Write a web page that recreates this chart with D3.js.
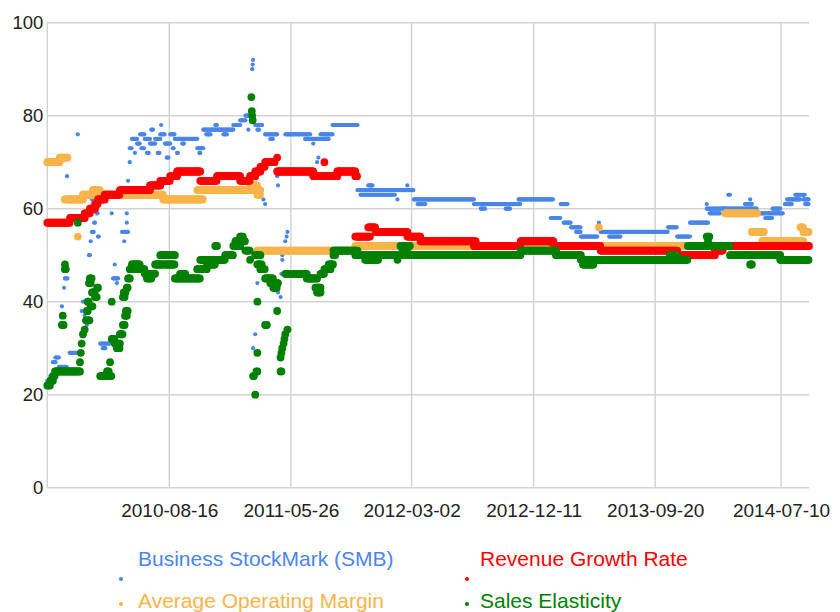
<!DOCTYPE html>
<html>
<head>
<meta charset="utf-8">
<script src="https://cdn.jsdelivr.net/npm/d3@7"></script>
<style>
  body { margin: 0; background: #ffffff; }
  text { font-family: "Liberation Sans", Arial, sans-serif; }
</style>
</head>
<body>
<div id="canvas"></div>
<script>
"use strict"

/* Series data: each row is [from, to, value],
   the value holds on every sampled day between the two dates. */
let smbRuns = [
  ["2009-11-05","2009-11-12",23], ["2009-11-12","2009-11-18",24], ["2009-11-18","2009-11-24",27],
  ["2009-11-24","2009-12-02",28], ["2009-12-02","2009-12-20",26], ["2009-12-09","2009-12-09",39],
  ["2009-12-14","2009-12-14",43], ["2009-12-16","2009-12-22",45], ["2009-12-20","2009-12-20",47],
  ["2009-12-21","2009-12-21",67], ["2009-12-27","2010-01-14",29], ["2010-01-15","2010-01-15",76],
  ["2010-01-24","2010-01-24",38], ["2010-01-27","2010-01-27",40], ["2010-01-31","2010-01-31",37],
  ["2010-02-05","2010-02-05",35], ["2010-02-10","2010-02-12",50], ["2010-02-14","2010-02-14",53],
  ["2010-02-17","2010-02-17",62], ["2010-02-17","2010-02-22",55], ["2010-02-22","2010-02-24",57],
  ["2010-02-28","2010-03-03",59], ["2010-03-03","2010-03-05",54], ["2010-03-08","2010-03-31",31],
  ["2010-03-14","2010-03-20",30], ["2010-04-04","2010-04-04",59], ["2010-04-07","2010-04-20",45],
  ["2010-04-11","2010-04-11",48], ["2010-04-16","2010-04-16",44], ["2010-04-28","2010-05-12",55],
  ["2010-05-03","2010-05-03",53], ["2010-05-09","2010-05-09",57], ["2010-05-09","2010-05-09",59],
  ["2010-05-12","2010-05-12",66], ["2010-05-16","2010-05-16",70], ["2010-05-16","2010-05-21",73],
  ["2010-05-21","2010-06-02",75], ["2010-05-28","2010-05-28",72], ["2010-06-02","2010-06-09",74],
  ["2010-06-09","2010-06-20",76], ["2010-06-12","2010-06-18",73], ["2010-06-20","2010-07-02",75],
  ["2010-06-25","2010-06-30",72], ["2010-07-02","2010-07-14",74], ["2010-07-05","2010-07-10",77],
  ["2010-07-14","2010-07-26",75], ["2010-07-20","2010-07-24",72], ["2010-07-26","2010-08-06",76],
  ["2010-07-28","2010-07-28",78], ["2010-08-06","2010-08-18",74], ["2010-08-10","2010-08-14",71],
  ["2010-08-18","2010-08-29",76], ["2010-08-24","2010-08-27",73], ["2010-08-29","2010-09-10",75],
  ["2010-09-03","2010-09-06",72], ["2010-09-10","2010-10-20",75], ["2010-09-15","2010-09-20",74],
  ["2010-10-20","2010-11-03",73], ["2010-10-25","2010-10-28",72], ["2010-11-03","2011-01-12",77],
  ["2010-11-10","2010-11-20",76], ["2010-12-01","2010-12-05",78], ["2010-12-20","2010-12-28",76],
  ["2011-01-12","2011-01-28",78], ["2011-01-28","2011-02-09",79], ["2011-02-09","2011-02-20",80],
  ["2011-02-16","2011-02-16",77], ["2011-02-25","2011-02-25",90], ["2011-02-26","2011-02-26",91],
  ["2011-02-27","2011-02-27",92], ["2011-02-27","2011-02-27",30], ["2011-03-04","2011-03-04",33],
  ["2011-03-09","2011-03-09",44], ["2011-03-04","2011-03-20",78], ["2011-03-09","2011-03-14",77],
  ["2011-03-20","2011-03-20",64], ["2011-03-23","2011-03-23",62], ["2011-03-27","2011-03-27",61],
  ["2011-03-27","2011-04-24",76], ["2011-04-08","2011-04-15",75], ["2011-04-24","2011-04-24",67],
  ["2011-04-26","2011-04-26",65], ["2011-04-26","2011-04-26",42], ["2011-05-02","2011-05-02",41],
  ["2011-05-04","2011-05-04",46], ["2011-05-06","2011-05-06",49], ["2011-05-06","2011-05-06",50],
  ["2011-05-13","2011-05-13",53], ["2011-05-16","2011-05-16",54], ["2011-05-18","2011-05-18",55],
  ["2011-05-13","2011-07-10",76], ["2011-06-28","2011-08-03",75], ["2011-07-17","2011-07-17",74],
  ["2011-07-22","2011-07-22",68], ["2011-07-26","2011-07-26",70], ["2011-07-29","2011-07-29",71],
  ["2011-08-03","2011-08-31",76], ["2011-08-08","2011-08-22",75], ["2011-08-31","2011-10-28",78],
  ["2011-10-28","2012-03-07",64], ["2011-11-04","2012-01-24",63], ["2011-11-22","2011-12-02",65],
  ["2012-01-29","2012-01-29",62], ["2012-02-21","2012-02-21",65], ["2012-03-07","2012-07-25",62],
  ["2012-03-16","2012-04-04",61], ["2012-07-25","2012-11-11",61], ["2012-08-10","2012-08-21",60],
  ["2012-10-07","2012-10-18",60], ["2012-11-06","2013-01-25",62], ["2013-01-20","2013-02-12",58],
  ["2013-02-12","2013-03-01",61], ["2013-02-19","2013-03-08",57], ["2013-03-08","2013-03-31",56],
  ["2013-03-20","2013-03-31",55], ["2013-03-31","2013-05-09",54], ["2013-05-12","2013-05-12",57],
  ["2013-05-16","2013-10-20",55], ["2013-06-05","2013-07-02",54], ["2013-10-20","2013-11-10",56],
  ["2013-11-10","2013-12-10",54], ["2013-12-10","2014-01-21",57], ["2014-01-18","2014-01-18",61],
  ["2014-01-18","2014-02-25",60], ["2014-01-25","2014-02-18",59], ["2014-03-09","2014-03-13",63],
  ["2014-02-25","2014-05-15",60], ["2014-03-02","2014-03-30",59], ["2014-04-17","2014-05-03",61],
  ["2014-04-29","2014-04-29",62], ["2014-05-15","2014-07-15",59], ["2014-06-03","2014-06-20",58],
  ["2014-06-20","2014-07-08",60], ["2014-07-19","2014-08-05",61], ["2014-07-24","2014-08-24",62],
  ["2014-08-12","2014-09-04",63], ["2014-08-31","2014-09-13",62], ["2014-09-04","2014-09-13",61]
];

let rgrRuns = [
  ["2009-11-05","2009-12-28",57], ["2009-12-28","2010-01-31",58], ["2010-01-31","2010-02-12",59],
  ["2010-02-12","2010-02-24",60], ["2010-02-24","2010-03-03",61], ["2010-03-03","2010-03-19",62],
  ["2010-03-19","2010-04-23",63], ["2010-04-23","2010-07-02",64], ["2010-07-02","2010-07-26",65],
  ["2010-07-26","2010-08-18",66], ["2010-08-18","2010-09-03",67], ["2010-09-03","2010-10-27",68],
  ["2010-10-27","2010-12-05",66], ["2010-12-05","2011-01-28",67], ["2011-01-28","2011-02-20",66],
  ["2011-02-20","2011-03-04",67], ["2011-03-04","2011-03-16",68], ["2011-03-16","2011-03-27",69],
  ["2011-03-27","2011-04-19",70], ["2011-04-24","2011-04-24",71], ["2011-04-24","2011-07-17",68],
  ["2011-07-17","2011-09-11",67], ["2011-08-12","2011-08-12",70], ["2011-09-11","2011-10-23",68],
  ["2011-10-23","2011-10-28",67], ["2011-10-23","2011-11-27",54], ["2011-11-22","2011-12-09",56],
  ["2011-12-09","2012-02-21",55], ["2012-02-21","2012-03-23",54], ["2012-03-23","2012-07-29",53],
  ["2012-07-25","2012-11-11",52], ["2012-11-11","2013-01-27",53], ["2013-01-27","2013-05-16",52],
  ["2013-05-16","2013-11-10",51], ["2013-11-10","2014-02-06",50], ["2014-02-06","2014-02-25",51],
  ["2014-02-25","2014-09-13",52]
];

let aomRuns = [
  ["2009-11-05","2009-12-04",70], ["2009-12-04","2009-12-23",71], ["2009-12-16","2010-01-27",62],
  ["2010-01-15","2010-01-15",54], ["2010-01-27","2010-03-24",63], ["2010-02-19","2010-03-08",64],
  ["2010-03-24","2010-08-02",63], ["2010-08-02","2010-11-03",62], ["2010-10-20","2011-03-16",64],
  ["2011-02-20","2011-03-09",65], ["2011-03-09","2011-03-16",63], ["2011-03-09","2011-10-23",51],
  ["2011-10-23","2013-12-10",52], ["2013-05-12","2013-05-12",56], ["2014-03-02","2014-05-15",59],
  ["2014-05-03","2014-05-31",55], ["2014-05-27","2014-08-31",53], ["2014-08-24","2014-08-31",56],
  ["2014-08-31","2014-09-13",55]
];

let seRuns = [
  ["2009-11-05","2009-11-12",22], ["2009-11-12","2009-11-18",23], ["2009-11-18","2009-11-23",24],
  ["2009-11-23","2010-01-20",25], ["2009-12-09","2009-12-14",35], ["2009-12-11","2009-12-11",37],
  ["2009-12-16","2009-12-18",47], ["2009-12-16","2009-12-16",48], ["2010-01-15","2010-01-15",57],
  ["2010-01-20","2010-01-20",27], ["2010-01-22","2010-01-22",29], ["2010-01-24","2010-01-24",31],
  ["2010-01-27","2010-01-27",33], ["2010-01-31","2010-01-31",34], ["2010-02-03","2010-02-03",36],
  ["2010-02-05","2010-02-07",38], ["2010-02-07","2010-02-10",40], ["2010-02-07","2010-02-12",36],
  ["2010-02-10","2010-02-14",44], ["2010-02-12","2010-02-17",45], ["2010-02-14","2010-02-19",39],
  ["2010-02-17","2010-02-24",42], ["2010-02-24","2010-03-01",41], ["2010-03-01","2010-03-03",43],
  ["2010-03-08","2010-04-04",24], ["2010-03-24","2010-03-28",25], ["2010-03-31","2010-03-31",27],
  ["2010-04-04","2010-04-04",40], ["2010-04-04","2010-04-11",32], ["2010-04-11","2010-04-23",31],
  ["2010-04-16","2010-04-23",30], ["2010-04-23","2010-04-30",33], ["2010-04-30","2010-05-05",35],
  ["2010-05-05","2010-05-09",37], ["2010-05-07","2010-05-12",38], ["2010-04-30","2010-05-05",41],
  ["2010-05-02","2010-05-07",42], ["2010-05-09","2010-05-12",43], ["2010-05-12","2010-05-16",45],
  ["2010-05-16","2010-06-20",47], ["2010-05-21","2010-06-09",48], ["2010-06-20","2010-07-14",46],
  ["2010-06-25","2010-07-05",45], ["2010-07-14","2010-08-02",48], ["2010-07-26","2010-08-29",50],
  ["2010-08-06","2010-08-29",48], ["2010-08-29","2010-10-27",45], ["2010-09-10","2010-09-22",46],
  ["2010-10-20","2010-11-12",47], ["2010-10-27","2010-11-03",49], ["2010-11-03","2010-12-24",49],
  ["2010-11-12","2010-11-30",48], ["2010-12-01","2010-12-05",52], ["2010-12-24","2011-01-12",50],
  ["2011-01-12","2011-01-28",52], ["2011-01-17","2011-02-09",53], ["2011-01-28","2011-02-04",54],
  ["2011-02-09","2011-02-20",51], ["2011-02-20","2011-02-20",49], ["2011-02-23","2011-02-23",84],
  ["2011-02-24","2011-02-24",81], ["2011-02-25","2011-02-25",80], ["2011-02-26","2011-02-26",79],
  ["2011-03-04","2011-03-04",20], ["2011-02-27","2011-03-01",24], ["2011-03-07","2011-03-09",25],
  ["2011-03-09","2011-03-09",29], ["2011-03-09","2011-03-09",40], ["2011-03-04","2011-03-16",50],
  ["2011-03-09","2011-03-20",48], ["2011-03-16","2011-03-27",47], ["2011-03-27","2011-04-01",35],
  ["2011-03-27","2011-04-15",45], ["2011-04-08","2011-04-26",44], ["2011-04-15","2011-04-24",43],
  ["2011-04-24","2011-04-24",38], ["2011-05-02","2011-05-04",25], ["2011-05-02","2011-05-02",28],
  ["2011-05-04","2011-05-04",29], ["2011-05-06","2011-05-06",30], ["2011-05-09","2011-05-09",31],
  ["2011-05-11","2011-05-11",32], ["2011-05-13","2011-05-13",33], ["2011-05-18","2011-05-18",34],
  ["2011-05-13","2011-07-02",46], ["2011-07-02","2011-07-26",45], ["2011-07-22","2011-08-03",43],
  ["2011-07-26","2011-08-03",42], ["2011-08-03","2011-08-12",46], ["2011-08-12","2011-08-26",47],
  ["2011-08-22","2011-09-02",48], ["2011-09-02","2011-09-06",50], ["2011-09-02","2011-10-28",51],
  ["2011-10-23","2012-03-07",50], ["2011-11-15","2011-12-16",49], ["2012-01-29","2012-01-29",49],
  ["2012-02-05","2012-02-28",52], ["2012-02-10","2012-02-21",51], ["2012-03-07","2012-11-11",50],
  ["2012-11-11","2013-02-01",51], ["2013-02-01","2013-03-31",50], ["2013-03-31","2013-12-05",49],
  ["2013-04-05","2013-04-30",48], ["2013-10-24","2013-11-10",50], ["2013-12-05","2014-01-18",52],
  ["2014-01-18","2014-01-25",54], ["2014-01-21","2014-01-21",53], ["2014-01-25","2014-03-13",52],
  ["2014-03-13","2014-04-29",50], ["2014-04-29","2014-05-03",48], ["2014-05-03","2014-07-08",50],
  ["2014-07-08","2014-09-13",49]
];

let seriesNames = ["Business StockMark (SMB)", "Revenue Growth Rate", "Average Operating Margin", "Sales Elasticity"];
let xTickLabels = ["2010-08-16", "2011-05-26", "2012-03-02", "2012-12-11", "2013-09-20", "2014-07-10"];
let yTicks = [0, 20, 40, 60, 80, 100];

let drawingWidth = 840;
let drawingHeight = 612;
let plotLeft = 47.3;
let plotRight = 809;
let plotTop = 22.7;
let plotBottom = 487.7;

let seriesColors = ["#4a86e8", "#ff0000", "#f8b44a", "#008000"];
let seriesRadius = [2.1, 3.9, 3.9, 3.9];

let parseDate = d3.timeParse("%Y-%m-%d");

// turn the runs into one dot every second day
function expand(runs) {
    let points = [];
    runs.forEach(function (r) {
        let start = parseDate(r[0]);
        let stop = d3.timeDay.offset(parseDate(r[1]), 1);
        d3.timeDay.range(start, stop, 2).forEach(function (d) {
            points.push({ date: d, value: r[2] });
        });
    });
    return points;
}

let seriesPoints = [expand(smbRuns), expand(rgrRuns), expand(aomRuns), expand(seRuns)];

let allDates = [];
seriesPoints.forEach(function (s) { s.forEach(function (p) { allDates.push(p.date); }); });

let x = d3.scaleTime()
    .domain(d3.extent(allDates))
    .range([plotLeft, plotRight]);

let y = d3.scaleLinear()
    .domain([0, 100])
    .range([plotBottom, plotTop]);

let xTicks = xTickLabels.map(parseDate);

let drawing = d3.select("#canvas")
    .append("svg")
    .attr("width", drawingWidth)
    .attr("height", drawingHeight);

drawing.append("rect")
    .attr("width", drawingWidth)
    .attr("height", drawingHeight)
    .attr("fill", "#ffffff");

/* grid */
let grid = drawing.append("g")
    .attr("stroke", "#d2d2d2")
    .attr("stroke-width", 1.4);

grid.selectAll(".hgrid")
    .data(yTicks)
    .enter()
    .append("line")
    .attr("x1", plotLeft)
    .attr("x2", plotRight)
    .attr("y1", d => y(d))
    .attr("y2", d => y(d));

grid.selectAll(".vgrid")
    .data(xTicks)
    .enter()
    .append("line")
    .attr("x1", d => x(d))
    .attr("x2", d => x(d))
    .attr("y1", plotTop)
    .attr("y2", plotBottom);

grid.append("line")
    .attr("x1", plotLeft)
    .attr("x2", plotLeft)
    .attr("y1", plotTop)
    .attr("y2", plotBottom);

/* axes labels */
let yAxis = drawing.append("g")
    .attr("transform", "translate(" + plotLeft + ",0)")
    .call(d3.axisLeft(y).tickValues(yTicks).tickSize(0).tickPadding(4));
yAxis.select(".domain").remove();
yAxis.selectAll("text")
    .attr("font-size", "18.5px")
    .attr("font-family", "Liberation Sans, Arial, sans-serif")
    .attr("fill", "#222222");

let xAxis = drawing.append("g")
    .attr("transform", "translate(0," + plotBottom + ")")
    .call(d3.axisBottom(x).tickValues(xTicks).tickFormat(d3.timeFormat("%Y-%m-%d")).tickSize(0).tickPadding(16));
xAxis.select(".domain").remove();
xAxis.selectAll("text")
    .attr("font-size", "19px")
    .attr("font-family", "Liberation Sans, Arial, sans-serif")
    .attr("fill", "#222222");

/* dots: blue first, then orange, red, green on top */
let drawOrder = [0, 2, 1, 3];
drawOrder.forEach(function (i) {
    drawing.append("g")
        .selectAll("circle")
        .data(seriesPoints[i])
        .enter()
        .append("circle")
        .attr("cx", d => x(d.date))
        .attr("cy", d => y(d.value))
        .attr("r", seriesRadius[i])
        .attr("fill", seriesColors[i]);
});

/* legend, two columns */
let legendDotX = [121, 467];
let legendTextX = [138, 480];
let legendDotY = [579, 604];
let legendTextY = [566, 608];

let legend = drawing.append("g");
seriesNames.forEach(function (name, i) {
    let col = i % 2;
    let row = Math.floor(i / 2);
    legend.append("circle")
        .attr("cx", legendDotX[col])
        .attr("cy", legendDotY[row])
        .attr("r", 2.1)
        .attr("fill", seriesColors[i]);
    legend.append("text")
        .attr("x", legendTextX[col])
        .attr("y", legendTextY[row])
        .attr("font-size", "21px")
        .attr("fill", seriesColors[i])
        .text(name);
});
</script>
</body>
</html>
